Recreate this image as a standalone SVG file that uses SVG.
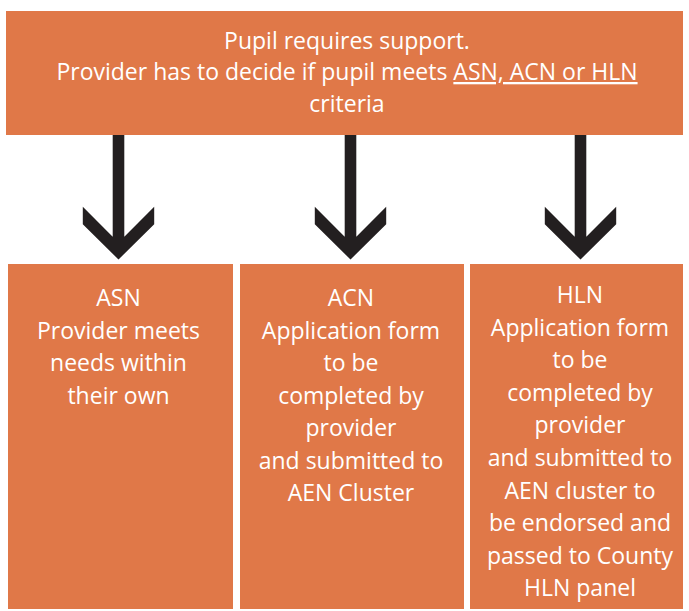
<svg xmlns="http://www.w3.org/2000/svg" width="689" height="611" viewBox="0 0 689 611">
<style>
.box{fill:#E07848;}
.t{font-family:"Open Sans","Liberation Sans",sans-serif;font-size:23px;fill:#FFFFFF;text-anchor:middle;}
.u{text-decoration:underline;}
.arr{fill:#231F20;}
</style>
<defs>
<polygon id="arrow" class="arr" points="-5.8,134 5.8,134 5.8,236.7 35.7,206.7 35.7,224.3 0,259.5 -35.7,224.3 -35.7,206.7 -5.8,236.7"/>
</defs>
<rect width="689" height="611" fill="#FFFFFF"/>
<g id="connectors">
<use href="#arrow" transform="translate(118.5,0)"/>
<use href="#arrow" transform="translate(350.5,0)"/>
<use href="#arrow" transform="translate(580.5,0)"/>
</g>
<g id="top">
<rect class="box" x="6" y="11" width="677" height="124"/>
<text class="t" x="347" y="48.5">Pupil requires support.</text>
<text class="t" x="347" y="80">Provider has to decide if pupil meets <tspan class="u">ASN, ACN or HLN</tspan></text>
<text class="t" x="347" y="111.5">criteria</text>
</g>
<g id="asn">
<rect class="box" x="8" y="264" width="225" height="345"/>
<text class="t" x="118.5" y="306">ASN</text>
<text class="t" x="118.5" y="338.5">Provider meets</text>
<text class="t" x="118.5" y="371">needs within</text>
<text class="t" x="118.5" y="403.5">their own</text>
</g>
<g id="acn">
<rect class="box" x="240" y="264" width="224" height="345"/>
<text class="t" x="351" y="306">ACN</text>
<text class="t" x="351" y="338.5">Application form</text>
<text class="t" x="351" y="371">to be</text>
<text class="t" x="351" y="403.5">completed by</text>
<text class="t" x="351" y="436">provider</text>
<text class="t" x="351" y="468.5">and submitted to</text>
<text class="t" x="351" y="501">AEN Cluster</text>
</g>
<g id="hln">
<rect class="box" x="470" y="264" width="213" height="345"/>
<text class="t" x="580" y="303">HLN</text>
<text class="t" x="580" y="335.6">Application form</text>
<text class="t" x="580" y="368.2">to be</text>
<text class="t" x="580" y="400.8">completed by</text>
<text class="t" x="580" y="433.4">provider</text>
<text class="t" x="580" y="466">and submitted to</text>
<text class="t" x="580" y="498.6">AEN cluster to</text>
<text class="t" x="580" y="531.2">be endorsed and</text>
<text class="t" x="580" y="563.8">passed to County</text>
<text class="t" x="580" y="596.4">HLN panel</text>
</g>
</svg>
